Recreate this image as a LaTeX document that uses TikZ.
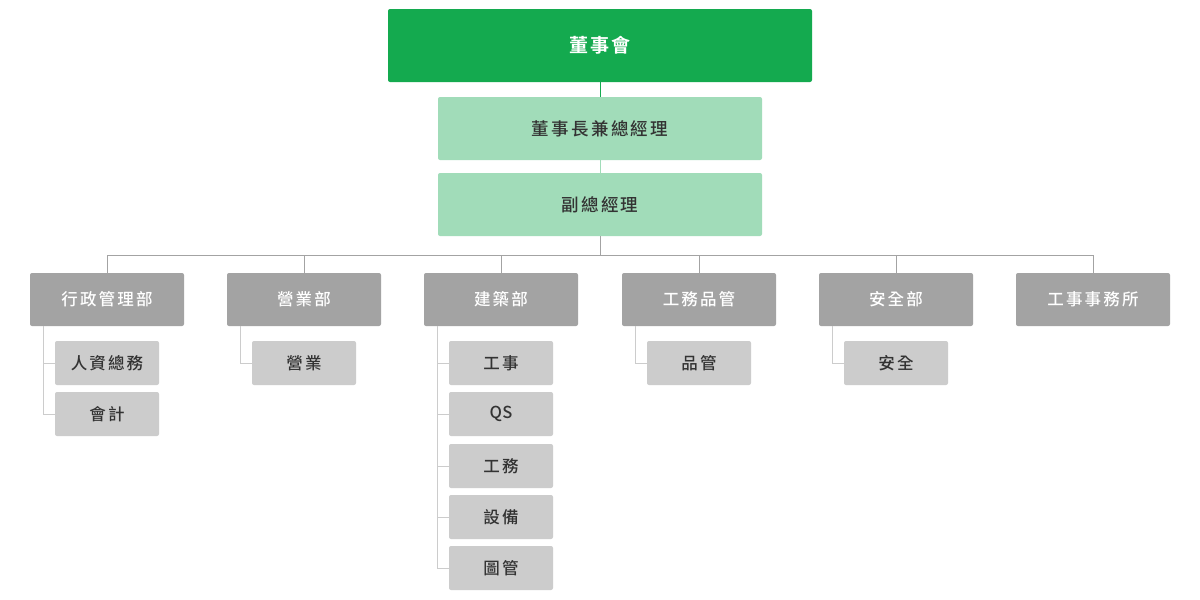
\documentclass[tikz,border=0pt]{standalone}
\usepackage{fontspec}
\setmainfont{Noto Sans CJK TC}[UprightFont=* Medium,BoldFont=* Bold,LetterSpace=13]
\usepackage{tikz}
\usetikzlibrary{positioning}

\definecolor{boardgreen}{HTML}{14AA4F}
\definecolor{execgreen}{HTML}{A1DCB9}
\definecolor{deptgray}{HTML}{A3A3A3}
\definecolor{unitgray}{HTML}{CCCCCC}
\definecolor{textgray}{HTML}{333333}

\begin{document}
\begin{tikzpicture}[x=1pt,y=-1pt]
	\tikzset{box/.style={rounded corners=2pt,inner sep=0pt,font=\fontsize{16.5}{18}\selectfont}}
	\tikzstyle{board}=[box,fill=boardgreen,text=white,minimum width=424pt,minimum height=73pt,font=\fontsize{19}{22}\selectfont\bfseries]
	\tikzstyle{exec}=[box,fill=execgreen,text=textgray,minimum width=324pt,minimum height=63pt,font=\fontsize{17.5}{20}\selectfont]
	\tikzstyle{dept}=[box,fill=deptgray,text=white,minimum width=154pt,minimum height=53pt]
	\tikzstyle{unit}=[box,fill=unitgray,text=textgray,minimum width=104pt,minimum height=44pt]
	\useasboundingbox[fill=white] (0,0) rectangle (1200,600);

	%% Top of the tree
	\node[board] (board) at (600,45.5) {董事會};
	\node[exec] (ceo) at (600,128.5) {董事長兼總經理};
	\node[exec] (vp) at (600,204.5) {副總經理};
	\draw[boardgreen,line width=1pt] (board) -- (ceo);
	\draw[execgreen,line width=1pt] (ceo) -- (vp);

	%% Departments
	\node[dept] (d1) at (107,299.5) {行政管理部};
	\node[dept] (d2) at (304,299.5) {營業部};
	\node[dept] (d3) at (501,299.5) {建築部};
	\node[dept] (d4) at (699,299.5) {工務品管};
	\node[dept] (d5) at (896,299.5) {安全部};
	\node[dept] (d6) at (1093,299.5) {工事事務所};
	\coordinate (bus) at (600,255);
	\draw[deptgray,line width=1pt] (vp) -- (bus);
	\foreach \d in {d1,d2,d3,d4,d5,d6}
		\draw[deptgray,line width=1pt] (bus) -| (\d.north);

	%% Sections under each department
	\node[unit] (u11) at (107,363) {人資總務};
	\node[unit] (u12) at (107,414) {會計};
	\node[unit] (u21) at (304,363) {營業};
	\node[unit] (u31) at (501,363) {工事};
	\node[unit] (u32) at (501,414) {\addfontfeature{LetterSpace=2}QS};
	\node[unit] (u33) at (501,466) {工務};
	\node[unit] (u34) at (501,517) {設備};
	\node[unit] (u35) at (501,568) {圖管};
	\node[unit] (u41) at (699,363) {品管};
	\node[unit] (u51) at (896,363) {安全};
	\foreach \d/\u in {d1/u11,d1/u12,d2/u21,d3/u31,d3/u32,d3/u33,d3/u34,d3/u35,d4/u41,d5/u51}
		\draw[unitgray,line width=1pt] ([xshift=14pt]\d.south west) |- (\u.west);
\end{tikzpicture}
\end{document}
